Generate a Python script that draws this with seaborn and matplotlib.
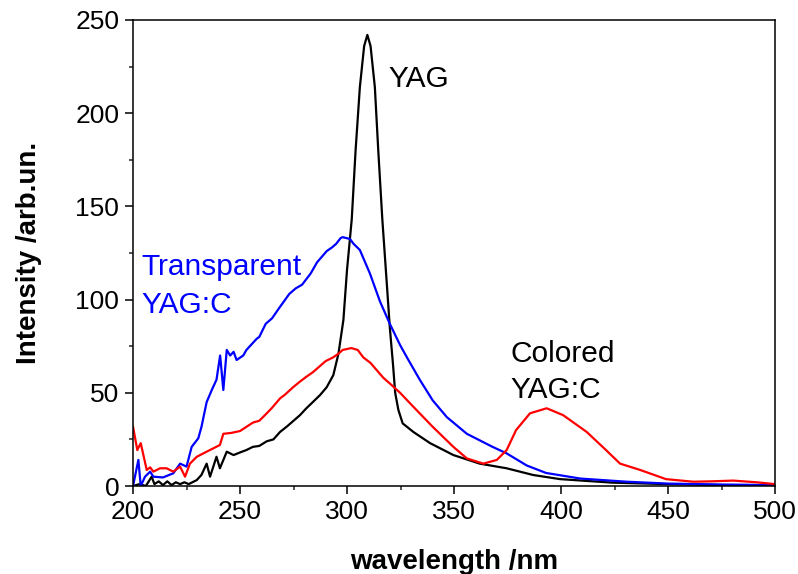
import matplotlib
matplotlib.use("Agg")
import matplotlib.pyplot as plt
from matplotlib.ticker import MultipleLocator
import seaborn as sns

# YAG (black)
yag_wl = [200, 203, 206, 208.7, 210, 212, 214, 216, 218, 220, 222, 224, 226, 229.8, 232,
          234.4, 236, 239, 240.6, 243.8, 247, 250, 253, 256, 259, 262.5, 265.6, 268.7, 272,
          275, 278, 281, 284, 287.4, 290.5, 293.6, 296, 298.3, 300, 302.2, 304, 306, 308,
          309.5, 311, 313, 314.6, 316.5, 318.5, 320, 321.5, 322.5, 324, 326, 331, 338.8,
          349.7, 362, 374.6, 387, 399.5, 424, 450, 475, 500]
yag_int = [0, 1, 0, 5, 1, 2.5, 0.5, 2.5, 0.5, 2, 1, 2, 1, 3.2, 6,
           12, 5, 15.7, 9.5, 18.4, 16.6, 18, 19.3, 21, 21.5, 24, 25, 29, 32,
           35, 38, 41.7, 45, 48.8, 53, 59.5, 71, 89, 116, 143, 180, 214, 236,
           242, 236, 214, 180, 143, 110, 85, 65, 50, 40.8, 33.6, 29, 23,
           16.6, 12, 9.5, 5.9, 3.7, 1.8, 1, 0.5, 0.3]

# Transparent YAG:C (blue)
tr_wl = [200, 202.5, 203.6, 205.6, 208, 209.5, 214, 218.8, 222, 225, 227.4, 230.5, 232,
         234.4, 236.8, 239, 240.7, 242.2, 243.8, 245.4, 247, 248.4, 251.5, 253, 257.8, 259,
         262, 265, 268, 270.5, 273, 276, 279, 283, 286, 290.5, 293, 295, 297, 298, 301.4,
         303, 306, 310.7, 315.4, 320, 324.8, 328, 334, 340, 346.6, 356, 368, 374.6, 384,
         393, 409, 430.7, 450, 475, 500]
tr_int = [0, 14, 0, 5, 7.7, 5, 4.6, 6.8, 12, 10.4, 21, 25.6, 31.8,
          45, 51.5, 57, 70, 51.5, 73, 70, 72, 67.6, 70, 73, 79, 80,
          87, 90, 95, 99, 103, 106, 108, 114, 120, 126, 128, 130, 133, 133.5, 132.5,
          130, 126.6, 114, 99, 87, 75.6, 69, 57, 46, 37, 28, 21, 17.5, 11,
          7, 4, 2.3, 1.3, 0.8, 0.5]

# Colored YAG:C (red)
col_wl = [200, 202, 203.6, 206.4, 208, 209.5, 212.6, 215.7, 218.8, 222, 224.3, 226.6,
          229.8, 234.4, 240.6, 242.2, 246, 250, 256, 259, 262.5, 265, 268.7, 271, 274.8,
          278, 281, 284, 287, 290, 293.5, 296, 298, 302, 305, 307.6, 311, 314, 317, 320,
          324.8, 331, 340, 349.7, 356, 363.7, 370, 374.6, 379, 385.5, 393.3, 401, 412, 421,
          427.6, 437, 449, 461.8, 470, 480.5, 491.4, 500]
col_int = [31.8, 19.3, 23, 8.6, 10, 7.7, 9.5, 9.5, 7.7, 10.4, 5, 12,
           15.7, 18.4, 22, 28, 28.5, 29.5, 34, 35, 39, 42, 47, 49, 53,
           56, 58.6, 61, 64, 67, 69, 71, 73, 74, 73, 69, 66, 62, 58, 55,
           50, 42.5, 31.8, 21, 14.8, 12, 14, 19.3, 30, 39, 41.7, 38, 29, 19.3,
           12, 8.6, 3.7, 2.3, 2.5, 2.9, 2, 1]

sns.set_theme(style="ticks")
plt.rcParams['font.family'] = ['Liberation Sans', 'DejaVu Sans']

fig, ax = plt.subplots(figsize=(7.98, 5.74), dpi=100)
fig.subplots_adjust(left=0.1667, right=0.9712, bottom=0.1533, top=0.9652)

sns.lineplot(x=yag_wl, y=yag_int, color="black", lw=1.6, ax=ax)
sns.lineplot(x=tr_wl, y=tr_int, color="#0000ff", lw=1.6, ax=ax)
sns.lineplot(x=col_wl, y=col_int, color="#ff0000", lw=1.6, ax=ax)

ax.set_xlim(200, 500)
ax.set_ylim(0, 250)
ax.xaxis.set_major_locator(MultipleLocator(50))
ax.xaxis.set_minor_locator(MultipleLocator(25))
ax.yaxis.set_major_locator(MultipleLocator(50))
ax.yaxis.set_minor_locator(MultipleLocator(25))
ax.tick_params(which="major", direction="out", length=6, width=1.1, labelsize=19,
               colors="black", pad=4, top=False, right=False)
ax.tick_params(which="minor", direction="out", length=3.2, width=1.1, top=False, right=False)
for s in ax.spines.values():
    s.set_visible(True)
    s.set_linewidth(1.1)
    s.set_color("black")

ax.set_xlabel("wavelength /nm", fontsize=20, fontweight="bold", color="black", labelpad=18)
ax.set_ylabel("Intensity /arb.un.", fontsize=20, fontweight="bold", color="black", labelpad=24)

ax.text(319.2, 214, "YAG", fontsize=21.5, color="black", ha="left", va="baseline")
ax.text(203.7, 113.2, "Transparent", fontsize=21.5, color="#0000ff", ha="left", va="baseline")
ax.text(203.7, 92.8, "YAG:C", fontsize=21.5, color="#0000ff", ha="left", va="baseline")
ax.text(376.2, 66.7, "Colored", fontsize=21.5, color="black", ha="left", va="baseline")
ax.text(376.2, 47.0, "YAG:C", fontsize=21.5, color="black", ha="left", va="baseline")

fig.savefig("out.png", dpi=100)
